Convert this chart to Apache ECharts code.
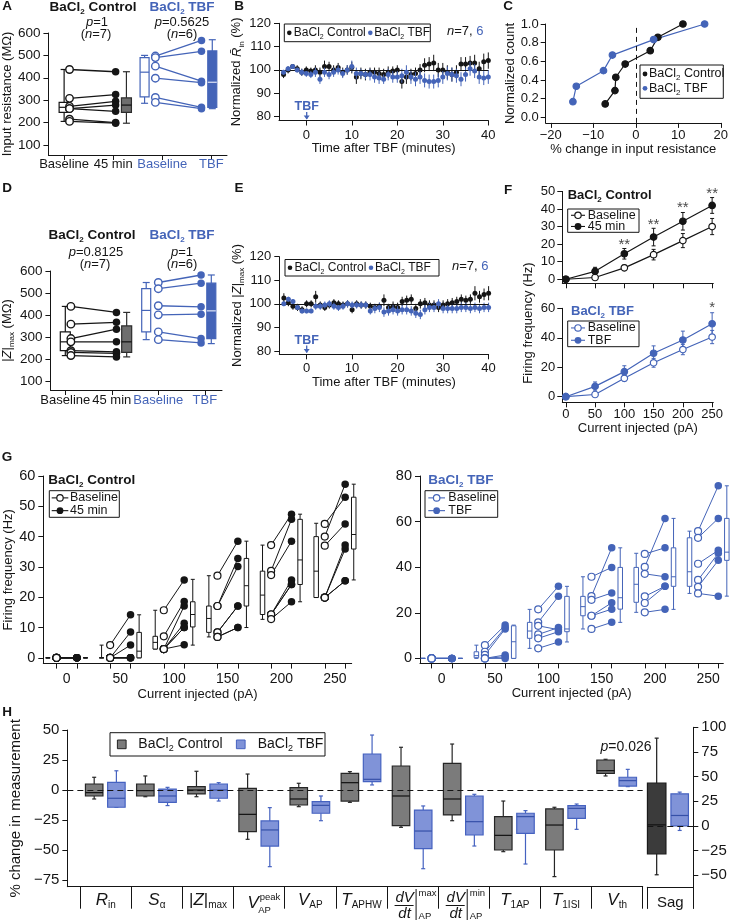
<!DOCTYPE html>
<html>
<head>
<meta charset="utf-8">
<script src="https://cdn.jsdelivr.net/npm/echarts@6.0.0/dist/echarts.min.js"></script>
<style>
html,body{margin:0;padding:0;background:#fff;}
#chart{width:731px;height:921px;}
</style>
</head>
<body>
<div id="chart"></div>
<script>
// ======================= DATA =======================
// Panel A: input resistance (MΩ)
const groupLabels = ['Baseline', '45 min', 'Baseline', 'TBF'];
const aCtrlBaseline = [437, 308, 272, 262, 262, 215, 205];
const aCtrl45min    = [427, 325, 295, 278, 250, 200, 197];
const aTbfBaseline  = [497, 490, 452, 398, 312, 290];
const aTbfAfter     = [567, 518, 385, 378, 268, 262];
const aBoxCtrlBaseline = [205, 245, 268, 290, 437];   // min, q1, median, q3, max
const aBoxCtrl45min    = [197, 245, 278, 310, 427];
const aBoxTbfBaseline  = [286, 315, 425, 490, 500];
const aBoxTbfAfter     = [262, 268, 380, 520, 570];
const aStats = ['1', '0.5625'];

// Panel D: |Z|max (MΩ)
const dCtrlBaseline = [440, 360, 295, 280, 240, 232, 218];
const dCtrl45min    = [413, 368, 337, 280, 235, 228, 212];
const dTbfBaseline  = [548, 520, 443, 402, 325, 290];
const dTbfAfter     = [582, 545, 438, 405, 295, 275];
const dBoxCtrlBaseline = [218, 240, 280, 325, 440];
const dBoxCtrl45min    = [212, 232, 280, 352, 413];
const dBoxTbfBaseline  = [290, 325, 422, 520, 548];
const dBoxTbfAfter     = [272, 295, 420, 545, 582];
const dStats = ['0.8125', '1'];

// Panels B and E: time course (minutes after TBF)
const timeMin = [-5,-4,-3,-2,-1,0,1,2,3,4,5,6,7,8,9,10,11,12,13,14,15,16,17,18,19,20,21,22,23,24,25,26,27,28,29,30,31,32,33,34,35,36,37,38,39,40];
const bCtrl    = [98,100,101.5,100.5,99,100,99.5,100,99,101.5,101.5,100,101,99,100,101,97,98.5,98,99,99,98.5,98,99,99.5,100,95,97,98,98.5,100,102,102.5,103,100,100,99,98,99,102.5,102.5,103,103,100.5,103.5,104];
const bCtrlErr = [1.5,1.5,1,1.5,1.5,1.5,1.5,2,2,2.5,2,2,2,2,2,2.5,3,2.5,2.5,2,2,2.5,2.5,2.5,2,2,3,3,2.5,2.5,2.5,3,3,3.5,3,3,3,3,3,3,3,3,3.5,3,3.5,3.5];
const bTbf     = [99,100.5,101.5,100,99,98.5,98,99,96,99,98,99,100,98.5,100,101.5,98.5,98.5,98,98,97,96.5,96,98,97,97,97.5,99,97,96,97,95.5,95,95,95.5,97,98.5,98,97.5,96,98,100.5,99.5,97,96.5,97];
const bTbfErr  = [1,1,1,1,1.5,1.5,1.5,2,2,2,2,2,2,2,2,2.5,2.5,2,2,2.5,2.5,2.5,2,2.5,2.5,2.5,3,3,3,3,3,3,3,3,3,3,3,3,3,3,3,3,3,3,3,3];
const eCtrl    = [102.5,100.5,99,98.5,97.5,100,100,103,99.5,98.5,99.5,100.5,100,99.5,100,97.5,100,99.5,99.5,99,98.5,99,101.5,98.5,99,98.5,101,101.5,102,98,100,100.5,99.5,99.5,98.5,99.5,100,100.5,101,102,101.5,102,104.5,103,104,104.5];
const eCtrlErr = [2,1.5,1.5,1.5,1.5,1.5,1.5,2.5,1.5,1.5,1.5,1.5,1.5,1.5,1.5,1.5,1.5,1.5,1.5,1.5,1.5,1.5,2.5,1.5,2,2,2,2,2,2,2,2,2,2,2,2,2,2,2,2,2,2,3,2.5,2.5,3];
const eTbf     = [100,102,101,98.5,97,97,97,99,99,99.5,100,99,98.5,99,100,99.5,99.5,99.5,99.5,97,98,98.5,96.5,97,97.5,97,97.5,97.5,97,96,95.5,97.5,98.5,98.5,100,98,98,98,98,98.5,98.5,98,98.5,98,98.5,98.5];
const eTbfErr  = [1,1,1,1,1,1,1,1.5,1.5,1.5,1.5,1.5,1.5,1.5,1.5,1.5,1.5,1.5,1.5,1.5,2,2,2,2,2,2,2,2,2,2,2,2,2,2,2,2,2,2,2,2,2,2,2,2,2,2];

// Panel C: cumulative distribution of % change in input resistance
const cCtrlChange = [-7.2, -4.9, -4.7, -2.5, 3.4, 5.2, 11.1];
const cCtrlCount  = [0.143, 0.286, 0.429, 0.571, 0.714, 0.857, 1.0];
const cTbfChange  = [-14.8, -14.0, -7.6, -5.5, 4.2, 16.2];
const cTbfCount   = [0.167, 0.333, 0.5, 0.667, 0.833, 1.0];

// Panel F: mean firing frequency (Hz) vs injected current (pA)
const currents = [0, 50, 100, 150, 200, 250];
const fCtrlBaseline    = [0, 1, 6.5, 14, 22, 30];
const fCtrlBaselineErr = [0, 0.6, 1.6, 3, 4, 4.6];
const fCtrl45min       = [0, 4.5, 14.5, 24, 33, 42];
const fCtrl45minErr    = [0, 2.3, 3, 5, 5, 4.5];
const fTbfBaseline     = [0, 1.5, 12.5, 23, 32, 40.5];
const fTbfBaselineErr  = [0, 1, 2, 3, 3.5, 4.5];
const fTbfAfter        = [0, 7, 17, 29.5, 38.5, 49.5];
const fTbfAfterErr     = [0, 3, 4, 5, 6, 7.5];
const fCtrlStars = ['', '', '**', '**', '**', '**'];
const fCtrlStarY = [0, 0, 21.4, 32.7, 42.2, 50.2];
const fTbfStars  = ['', '', '', '', '', '*'];
const fTbfStarY  = [0, 0, 0, 0, 0, 62.5];

// Panel G: individual cells (rows = current steps)
const gCtrlBaseline = [
  [0,0,0,0,0,0,0],
  [4.2,0,0,0,0,0,0],
  [15.7,7.1,2.9,2.9,2.9,2.9,2.9],
  [27.1,17.1,17.1,8.4,8.4,6.9,6.9],
  [37.2,28.7,27.3,14.3,14.3,14.3,12.8],
  [44.2,40,37,19.9,19.9,19.9,19.9]
];
const gCtrl45min = [
  [0,0,0,0,0,0,0],
  [14.2,8.5,4.2,0,0,0,0],
  [25.7,18.6,17.1,11.4,10,10,4.3],
  [38.5,32.8,30.1,17.1,17.1,10,10],
  [47.4,45.7,38.5,25.7,24.2,24.2,18.5],
  [53,57.3,44.2,37.2,35.9,25.4,25.4]
];
const gCtrlBoxBaseline = [[0,0,0,0,0],[0,0,0,0,4.2],[2.9,2.9,5.1,7.1,15.7],[6.9,8.4,13,17.1,27.1],[12.7,14.3,20.7,28.6,37.2],[19.9,19.9,28.6,40,44.4]];
const gCtrlBox45min    = [[0,0,0,0,0],[0,0,2.2,8.4,14.2],[4.2,10.2,14.3,18.5,25.9],[10,17.1,23.8,32.8,38.5],[18.5,24.2,32.3,45.7,47.4],[25.7,35.9,40.7,53,57.3]];
const gTbfBaseline = [
  [0,0,0,0,0,0],
  [5.8,2.9,1.5,0,0,0],
  [21.5,15.8,14.3,10.5,8.8,4.4],
  [35.8,27.3,25.7,18.7,18.7,12.9],
  [45.8,40.1,37.1,27.2,24.3,20.2],
  [55.8,52.9,41.5,34.4,31.4,28.5]
];
const gTbfAfter = [
  [0,0,0,0,0,0],
  [14.6,13.5,12.9,1.5,0.7,0],
  [31.6,27.2,12.6,13.5,11.7,7.2],
  [39.9,48.5,28.7,24.4,21.6,15.8],
  [48.5,61.4,35.8,31.6,31.6,21.5],
  [75.7,61.4,47.4,46.1,43,27.3]
];
const gTbfBoxBaseline = [[0,0,0,0,0],[0,0.3,1.2,2.9,5.8],[4.4,8.8,12,15.8,21.5],[12.9,18.7,22.7,27.2,35.8],[20.2,24.6,32.5,39.9,46.1],[28.5,31.6,38,52.9,55.8]];
const gTbfBoxAfter    = [[0,0,0,0,0],[0,0,7.3,14.3,14.6],[7.2,11.7,12.9,27.2,31.6],[15.8,21.6,26.6,39.9,48.5],[21.5,31.6,35.8,48.5,61.4],[27.3,43,46.6,61.4,75.7]];

// Panel H: % change in measurement, box summaries [min, q1, median, q3, max]
const hMeasures = ['Rin', 'Sα', '|Z|max', 'VAP peak', 'VAP', 'TAPHW', 'dV/dt max', 'dV/dt min', 'T1AP', 'T1ISI', 'Vth'];
const hCtrlBox = [
  [-7.5,-5,-2.2,5,10.6],
  [-5.6,-5,-0.5,5,11.7],
  [-5.6,-3.3,0,2.8,15.6],
  [-41.1,-34.7,-20.3,1.4,13.3],
  [-13.9,-12.5,-7.5,1.9,5.6],
  [-10.3,-9.2,6.1,13.9,15.3],
  [-31.1,-29.7,-5,20,35.6],
  [-25.6,-20.8,-7.5,22.2,38.3],
  [-51.4,-50,-37.8,-22.2,-9.2],
  [-72.2,-50,-29.2,-15.8,-14.4],
  [11.7,13.9,16.1,25,25.6]
];
const hTbfBox = [
  [-14.4,-14.4,-6.9,6.4,16],
  [-13,-10.3,-5,0.8,2.2],
  [-9.2,-6.9,0,5,6.1],
  [-63.9,-46.7,-33.3,-25.8,-14.7],
  [-25.6,-19.4,-12.8,-9.7,-5],
  [4.2,6.9,8.9,30,45.8],
  [-65.6,-48.9,-34.2,-16.7,-13.3],
  [-46.7,-37.5,-26.4,-5,-3.6],
  [-61.7,-36.1,-22.2,-19.4,-17.2],
  [-32.8,-23.6,-15.3,-13.1,-11.7],
  [2.8,3.3,7.8,10.6,17.2]
];
const sagCtrlBox = [-49.7, -28.4, 1, 43.3, 89];
const sagTbfBox  = [-4.7, 0, 10.5, 32.5, 34.2];
const hPText = '0.026';

// ======================= STYLE / LAYOUT =======================
const FONT = 'Liberation Sans, Arial, Helvetica, sans-serif';
const BLACK = '#151515';
const BLUE = '#4464b8';
const GREY = '#6e6e6e';

const minus = v => (v < 0 ? '\u2212' + Math.abs(v) : String(v));

function rs(size, color, bold) {
  const fw = bold ? 'bold' : 'normal';
  const sub = Math.round(size * 0.62);
  const base = {fontSize: size, fontFamily: FONT, fontWeight: fw, fill: color, color: color, lineHeight: size + 4};
  return {
    n: Object.assign({}, base),
    i: Object.assign({}, base, {fontStyle: 'italic'}),
    s: {fontSize: sub, fontFamily: FONT, fontWeight: fw, fill: color, color: color, lineHeight: sub, verticalAlign: 'bottom'},
    si: {fontSize: sub, fontFamily: FONT, fontWeight: fw, fontStyle: 'italic', fill: color, color: color, lineHeight: sub, verticalAlign: 'bottom'},
    bl: Object.assign({}, base, {fill: BLUE, color: BLUE})
  };
}

function mkAxis(gi, min, max, ticks, labels, o) {
  o = o || {};
  const ax = {
    type: 'value', gridIndex: gi, min: min, max: max,
    axisLine: {show: true, onZero: false, lineStyle: {color: BLACK, width: 1}},
    axisTick: {show: !!ticks, inside: false, length: o.tickLen || 5, customValues: ticks || [], lineStyle: {color: BLACK, width: 1}},
    axisLabel: {show: !!labels, customValues: labels || [], color: o.labelColor || BLACK, fontSize: o.fontSize || 13,
      fontFamily: FONT, margin: (o.margin != null ? o.margin : 8), showMinLabel: true, showMaxLabel: true, hideOverlap: false,
      formatter: o.formatter || minus},
    splitLine: {show: false}
  };
  if (o.rich) ax.axisLabel.rich = o.rich;
  if (o.position) ax.position = o.position;
  if (o.name) {
    ax.name = o.name; ax.nameLocation = 'middle'; ax.nameGap = o.nameGap;
    if (o.nameRotate != null) ax.nameRotate = o.nameRotate;
    ax.nameTextStyle = {color: BLACK, fontSize: o.nameSize || 13, fontFamily: FONT, rich: o.nameRich};
  }
  return ax;
}

function boxSeries(ai, data, o) {
  return {
    type: 'custom', xAxisIndex: ai, yAxisIndex: ai, clip: false, silent: true, z: o.z || 2,
    encode: {x: 0, y: [1, 2, 3, 4, 5]}, data: data,
    renderItem: function (params, api) {
      const x = api.value(0);
      const ys = [1, 2, 3, 4, 5].map(k => api.coord([x, api.value(k)])[1]);
      const cx = api.coord([x, api.value(3)])[0];
      const w = o.w, cap = o.cap, lw = o.lw || 1;
      const st = {stroke: o.stroke, lineWidth: lw};
      return {type: 'group', children: [
        {type: 'line', shape: {x1: cx, y1: ys[4], x2: cx, y2: ys[3]}, style: st},
        {type: 'line', shape: {x1: cx, y1: ys[1], x2: cx, y2: ys[0]}, style: st},
        {type: 'line', shape: {x1: cx - cap / 2, y1: ys[4], x2: cx + cap / 2, y2: ys[4]}, style: st},
        {type: 'line', shape: {x1: cx - cap / 2, y1: ys[0], x2: cx + cap / 2, y2: ys[0]}, style: st},
        {type: 'rect', shape: {x: cx - w / 2, y: ys[3], width: w, height: ys[1] - ys[3]}, style: {fill: o.fill, stroke: o.stroke, lineWidth: lw}},
        {type: 'line', shape: {x1: cx - w / 2, y1: ys[2], x2: cx + w / 2, y2: ys[2]}, style: {stroke: o.med || o.stroke, lineWidth: o.medLw || lw}}
      ]};
    }
  };
}

function errSeries(ai, data, color, cap, z) {
  return {
    type: 'custom', xAxisIndex: ai, yAxisIndex: ai, clip: false, silent: true, z: z || 2,
    encode: {x: 0, y: 1}, data: data,
    renderItem: function (params, api) {
      const x = api.value(0), y = api.value(1), e = api.value(2);
      const t = api.coord([x, y + e]), b = api.coord([x, y - e]);
      const st = {stroke: color, lineWidth: 1};
      return {type: 'group', children: [
        {type: 'line', shape: {x1: t[0], y1: t[1], x2: b[0], y2: b[1]}, style: st},
        {type: 'line', shape: {x1: t[0] - cap / 2, y1: t[1], x2: t[0] + cap / 2, y2: t[1]}, style: st},
        {type: 'line', shape: {x1: b[0] - cap / 2, y1: b[1], x2: b[0] + cap / 2, y2: b[1]}, style: st}
      ]};
    }
  };
}

function segSeries(ai, data, color, lw) {
  return {
    type: 'custom', xAxisIndex: ai, yAxisIndex: ai, clip: false, silent: true, z: 2,
    encode: {x: [0, 2], y: [1, 3]}, data: data,
    renderItem: function (params, api) {
      const a = api.coord([api.value(0), api.value(1)]);
      const b = api.coord([api.value(2), api.value(3)]);
      return {type: 'line', shape: {x1: a[0], y1: a[1], x2: b[0], y2: b[1]}, style: {stroke: color, lineWidth: lw}};
    }
  };
}

function dots(ai, data, size, fill, stroke, bw, z) {
  return {type: 'scatter', xAxisIndex: ai, yAxisIndex: ai, data: data, symbol: 'circle', symbolSize: size,
    clip: false, silent: true, z: z || 3, itemStyle: {color: fill, borderColor: stroke, borderWidth: bw || 0, opacity: 1}};
}

function refLine(ai, spec, dashed) {
  return {type: 'scatter', xAxisIndex: ai, yAxisIndex: ai, data: [], silent: true, z: 1,
    markLine: {silent: true, symbol: ['none', 'none'], animation: false, label: {show: false},
      lineStyle: {color: BLACK, width: 1, type: dashed ? dashed : 'solid', opacity: 1}, emphasis: {disabled: true}, data: [spec]}};
}

function lineSym(ai, data, color, fill, z) {
  return {type: 'line', xAxisIndex: ai, yAxisIndex: ai, data: data, symbol: 'circle', symbolSize: 6.5, showSymbol: true,
    clip: false, silent: true, z: z || 3, lineStyle: {color: color, width: 1.2},
    itemStyle: {color: fill, borderColor: color, borderWidth: 1.2, opacity: 1}};
}

// ---- grids ----
const grids = [
  {left: 45, top: 33, width: 182, height: 122},          // 0 A
  {left: 279, top: 23.3, width: 209.3, height: 97.2},    // 1 B
  {left: 545.7, top: 24, width: 176.1, height: 98.9},    // 2 C
  {left: 45.7, top: 271, width: 176.3, height: 119},     // 3 D
  {left: 279.3, top: 256.7, width: 209.3, height: 97.6}, // 4 E
  {left: 562.3, top: 191.4, width: 151, height: 91.9},   // 5 F top
  {left: 562.3, top: 308.3, width: 151, height: 94},     // 6 F bottom
  {left: 43.3, top: 476, width: 308.4, height: 187.6},   // 7 G left
  {left: 420, top: 476, width: 303.3, height: 187.4},    // 8 G right
  {left: 46.7, top: 730, width: 596, height: 156.7},     // 9 H
  {left: 647.3, top: 727.3, width: 46, height: 159.6}    // 10 Sag
];

// positions along the grouped x axes of A and D
const XA = {cBox: 0, cOpen: 0.11, cFill: 1.05, cBox2: 1.27, tBox: 1.64, tOpen: 1.86, tFill: 2.8, tBox2: 3.02};
const XD = {cBox: 0, cOpen: 0.12, cFill: 1.1, cBox2: 1.32, tBox: 1.74, tOpen: 2.0, tFill: 2.92, tBox2: 3.14};
const G_OFF = 9.5, G_BOX = 17.5;
const H_GREY = 0.274, H_BLUE = 0.708;

const rAxisName = rs(13, BLACK, false);
const groupColor = (v, i) => (i >= 2 ? BLUE : BLACK);

const xAxes = [
  mkAxis(0, -0.32, 3.32, [0, 1, 2, 3], [0, 1, 2, 3], {margin: 3, formatter: v => groupLabels[Math.round(v)], labelColor: (v, i) => (Math.round(v) >= 2 ? BLUE : BLACK)}),
  mkAxis(1, -6, 40, [0, 10, 20, 30, 40], [0, 10, 20, 30, 40], {margin: 8, name: 'Time after TBF (minutes)', nameGap: 21}),
  mkAxis(2, -21.2, 20, [-20, -10, 0, 10, 20], [-20, -10, 0, 10, 20], {margin: 6, name: '% change in input resistance', nameGap: 17}),
  mkAxis(3, -0.32, 3.37, [0, 1, 2, 3], [0, 1, 2, 3], {margin: 4, formatter: v => groupLabels[Math.round(v)], labelColor: (v, i) => (Math.round(v) >= 2 ? BLUE : BLACK)}),
  mkAxis(4, -6, 40, [0, 10, 20, 30, 40], [0, 10, 20, 30, 40], {margin: 8, name: 'Time after TBF (minutes)', nameGap: 22}),
  mkAxis(5, -6, 252, currents, null, {}),
  mkAxis(6, -6, 252, currents, currents, {margin: 6, name: 'Current injected (pA)', nameGap: 20}),
  mkAxis(7, -21.8, 265.6, currents.flatMap(c => [c - G_OFF, c + G_OFF]), currents, {margin: 9, fontSize: 14, name: 'Current injected (pA)', nameGap: 23}),
  mkAxis(8, -20.4, 264.2, currents.flatMap(c => [c - G_OFF, c + G_OFF]), currents, {margin: 9, fontSize: 14, name: 'Current injected (pA)', nameGap: 23}),
  mkAxis(9, -0.251, 11, [0,1,2,3,4,5,6,7,8,9,10,11], [0.5,1.5,2.5,3.5,4.5,5.5,6.5,7.5,8.5,9.5,10.5],
    {tickLen: 22, margin: 3, fontSize: 16, formatter: v => ['{i|R}{s|in}', '{i|S}{s|α}', '{n||}{i|Z}{n||}{s|max}', '', '{i|V}{s|AP}', '{i|T}{s|APHW}', '', '', '{i|T}{s|1AP}', '{i|T}{s|1ISI}', '{i|V}{s|th}'][Math.floor(v)],
     rich: (function () { const r = rs(17, BLACK, false); r.s.fontSize = 10; r.s.lineHeight = 10; r.n.lineHeight = 21; r.i.lineHeight = 21; return r; })()}),
  mkAxis(10, 0, 1, [0, 1], [0.5], {tickLen: 22, margin: 8, fontSize: 15, formatter: () => 'Sag'})
];
const yAxes = [
  mkAxis(0, 55, 600, [100, 200, 300, 400, 500, 600], [100, 200, 300, 400, 500, 600], {margin: 8, fontSize: 13.5, name: 'Input resistance (M\u03A9)', nameGap: 29, nameRotate: 90}),
  mkAxis(1, 78.3, 120, [80, 90, 100, 110, 120], [80, 90, 100, 110, 120], {margin: 8, name: 'Normalized {i|R\u0304}{s|in} (%)', nameGap: 30, nameRotate: 90, nameRich: rAxisName}),
  mkAxis(2, -0.06, 1.0, [0, 0.2, 0.4, 0.6, 0.8, 1.0], [0, 0.2, 0.4, 0.6, 0.8, 1.0], {margin: 7, formatter: v => v.toFixed(1), name: 'Normalized count', nameGap: 22, nameRotate: 90}),
  mkAxis(3, 62.5, 600, [100, 200, 300, 400, 500, 600], [100, 200, 300, 400, 500, 600], {margin: 8, fontSize: 13.5, name: '|{i|Z}|{s|max} (M\u03A9)', nameGap: 29, nameRotate: 90, nameRich: rAxisName}),
  mkAxis(4, 78.6, 120, [80, 90, 100, 110, 120], [80, 90, 100, 110, 120], {margin: 8, name: 'Normalized |{i|Z}|{s|max} (%)', nameGap: 29, nameRotate: 90, nameRich: rAxisName}),
  mkAxis(5, -2.3, 50, [0, 10, 20, 30, 40, 50], [0, 10, 20, 30, 40, 50], {margin: 7}),
  mkAxis(6, -3.8, 60, [0, 20, 40, 60], [0, 20, 40, 60], {margin: 7}),
  mkAxis(7, -1.9, 60, [0, 10, 20, 30, 40, 50, 60], [0, 10, 20, 30, 40, 50, 60], {margin: 8, fontSize: 14.5, name: 'Firing frequency (Hz)', nameGap: 27, nameRotate: 90}),
  mkAxis(8, -2.2, 80, [0, 20, 40, 60, 80], [0, 20, 40, 60, 80], {margin: 8, fontSize: 14.5}),
  mkAxis(9, -80.6, 50, [-75, -50, -25, 0, 25, 50], [-75, -50, -25, 0, 25, 50], {margin: 8, fontSize: 15, name: '% change in measurement', nameGap: 36, nameRotate: 90, nameSize: 15}),
  mkAxis(10, -62, 100, [-50, -25, 0, 25, 50, 75, 100], [-50, -25, 0, 25, 50, 75, 100], {position: 'right', margin: 8, fontSize: 15})
];

// ---- series ----
const S = [];
function pairPanel(ai, X, cB, c45, tB, tA, boxCB, boxC45, boxTB, boxTA, boxW) {
  S.push(boxSeries(ai, [[X.cBox].concat(boxCB)], {w: boxW, cap: boxW * 0.7, fill: '#fff', stroke: BLACK, lw: 1.2}));
  S.push(boxSeries(ai, [[X.cBox2].concat(boxC45)], {w: boxW, cap: boxW * 0.7, fill: GREY, stroke: '#2c2c2c', lw: 1.2, med: '#111'}));
  S.push(boxSeries(ai, [[X.tBox].concat(boxTB)], {w: boxW - 1, cap: boxW * 0.7, fill: '#fff', stroke: BLUE, lw: 1.2}));
  S.push(boxSeries(ai, [[X.tBox2].concat(boxTA)], {w: boxW - 1, cap: boxW * 0.7, fill: BLUE, stroke: BLUE, lw: 1.2, med: '#dfe6f7'}));
  S.push(segSeries(ai, cB.map((v, i) => [X.cOpen, v, X.cFill, c45[i]]), BLACK, 1.3));
  S.push(segSeries(ai, tB.map((v, i) => [X.tOpen, v, X.tFill, tA[i]]), BLUE, 1.3));
  S.push(dots(ai, cB.map(v => [X.cOpen, v]), 7.5, '#fff', BLACK, 1.4));
  S.push(dots(ai, c45.map(v => [X.cFill, v]), 7.5, BLACK, BLACK, 0));
  S.push(dots(ai, tB.map(v => [X.tOpen, v]), 7.5, '#fff', BLUE, 1.4));
  S.push(dots(ai, tA.map(v => [X.tFill, v]), 7.5, BLUE, BLUE, 0));
}
pairPanel(0, XA, aCtrlBaseline, aCtrl45min, aTbfBaseline, aTbfAfter, aBoxCtrlBaseline, aBoxCtrl45min, aBoxTbfBaseline, aBoxTbfAfter, 10);
pairPanel(3, XD, dCtrlBaseline, dCtrl45min, dTbfBaseline, dTbfAfter, dBoxCtrlBaseline, dBoxCtrl45min, dBoxTbfBaseline, dBoxTbfAfter, 10);

function timePanel(ai, ctrl, ctrlErr, tbf, tbfErr) {
  S.push(refLine(ai, {yAxis: 100}));
  S.push(errSeries(ai, timeMin.map((t, i) => [t, ctrl[i], ctrlErr[i]]), BLACK, 0, 2));
  S.push(dots(ai, timeMin.map((t, i) => [t, ctrl[i]]), 5, BLACK, BLACK, 0, 3));
  S.push(errSeries(ai, timeMin.map((t, i) => [t, tbf[i], tbfErr[i]]), BLUE, 0, 4));
  S.push(dots(ai, timeMin.map((t, i) => [t, tbf[i]]), 5, BLUE, BLUE, 0, 5));
}
timePanel(1, bCtrl, bCtrlErr, bTbf, bTbfErr);
timePanel(4, eCtrl, eCtrlErr, eTbf, eTbfErr);

// C
S.push(refLine(2, {xAxis: 0}, [5, 4]));
S.push(lineSym(2, cCtrlChange.map((v, i) => [v, cCtrlCount[i]]), BLACK, BLACK));
S.push(lineSym(2, cTbfChange.map((v, i) => [v, cTbfCount[i]]), BLUE, BLUE));

// F
function fPanel(ai, base, baseErr, post, postErr, color, stars, starY) {
  S.push(errSeries(ai, currents.map((c, i) => [c, base[i], baseErr[i]]), color, 4, 2));
  S.push(errSeries(ai, currents.map((c, i) => [c, post[i], postErr[i]]), color, 4, 2));
  S.push(lineSym(ai, currents.map((c, i) => [c, base[i]]), color, '#fff', 3));
  S.push(lineSym(ai, currents.map((c, i) => [c, post[i]]), color, color, 4));
  S.push({type: 'scatter', xAxisIndex: ai, yAxisIndex: ai, symbolSize: 1, clip: false, silent: true, z: 6,
    itemStyle: {color: 'rgba(0,0,0,0)'},
    data: currents.map((c, i) => ({value: [c, starY[i]], label: {show: stars[i] !== '', formatter: stars[i]}})).filter((d, i) => stars[i] !== ''),
    label: {show: true, position: 'inside', color: BLACK, fontSize: 15, fontFamily: FONT, offset: [0, 3]}});
}
fPanel(5, fCtrlBaseline, fCtrlBaselineErr, fCtrl45min, fCtrl45minErr, BLACK, fCtrlStars, fCtrlStarY);
fPanel(6, fTbfBaseline, fTbfBaselineErr, fTbfAfter, fTbfAfterErr, BLUE, fTbfStars, fTbfStarY);

// G
function gPanel(ai, base, post, boxB, boxP, color) {
  S.push(boxSeries(ai, currents.map((c, i) => [c - G_BOX].concat(boxB[i])), {w: 4.5, cap: 4, fill: '#fff', stroke: color, lw: 1}));
  S.push(boxSeries(ai, currents.map((c, i) => [c + G_BOX].concat(boxP[i])), {w: 4.5, cap: 4, fill: '#fff', stroke: color, lw: 1}));
  const segs = [], open = [], filled = [];
  currents.forEach((c, i) => {
    base[i].forEach((v, j) => {
      segs.push([c - G_OFF, v, c + G_OFF, post[i][j]]);
      open.push([c - G_OFF, v]);
      filled.push([c + G_OFF, post[i][j]]);
    });
  });
  S.push(segSeries(ai, segs, color, 1));
  S.push(dots(ai, open, 7, '#fff', color, 1.2));
  S.push(dots(ai, filled, 7.5, color, color, 0));
}
gPanel(7, gCtrlBaseline, gCtrl45min, gCtrlBoxBaseline, gCtrlBox45min, BLACK);
gPanel(8, gTbfBaseline, gTbfAfter, gTbfBoxBaseline, gTbfBoxAfter, BLUE);

// H
S.push(refLine(9, {yAxis: 0}, [6, 4]));
S.push(boxSeries(9, hCtrlBox.map((b, i) => [i + H_GREY].concat(b)), {w: 17.5, cap: 4, fill: '#7b7b7b', stroke: '#262626', lw: 1.2, med: '#111'}));
S.push(boxSeries(9, hTbfBox.map((b, i) => [i + H_BLUE].concat(b)), {w: 17.5, cap: 4, fill: '#8093d8', stroke: '#4562c0', lw: 1.2, med: '#3550a8'}));
S.push(refLine(10, {yAxis: 0}, [6, 4]));
S.push(boxSeries(10, [[0.204].concat(sagCtrlBox)], {w: 18.5, cap: 4, fill: '#3b3b3b', stroke: '#1a1a1a', lw: 1.2, med: '#111'}));
S.push(boxSeries(10, [[0.704].concat(sagTbfBox)], {w: 17.5, cap: 4, fill: '#8093d8', stroke: '#4562c0', lw: 1.2, med: '#3550a8'}));

const chart = echarts.init(document.getElementById('chart'), null, {renderer: 'canvas', width: 731, height: 921});
chart.setOption({
  animation: false,
  backgroundColor: '#ffffff',
  textStyle: {fontFamily: FONT},
  grid: grids,
  xAxis: xAxes,
  yAxis: yAxes,
  series: S
});

// ======================= ANNOTATIONS =======================
function T(x, y, text, o) {
  o = o || {};
  const st = {text: text, fill: o.color || BLACK, fontSize: o.size || 13, fontFamily: FONT,
    fontWeight: o.bold ? 'bold' : 'normal', fontStyle: o.italic ? 'italic' : 'normal',
    align: o.align || 'center', verticalAlign: o.va || 'middle', textAlign: o.align || 'center', textVerticalAlign: o.va || 'middle'};
  if (o.rich) st.rich = o.rich;
  return {type: 'text', x: x, y: y, rotation: o.rot || 0, silent: true, z: 100, style: st};
}
function R(x, y, w, h, o) {
  o = o || {};
  return {type: 'rect', shape: {x: x, y: y, width: w, height: h}, silent: true, z: 90,
    style: {fill: o.fill || '#fff', stroke: o.stroke || BLACK, lineWidth: o.lw || 1}};
}
function L(x1, y1, x2, y2, color, lw) {
  return {type: 'line', shape: {x1: x1, y1: y1, x2: x2, y2: y2}, silent: true, z: 95, style: {stroke: color || BLACK, lineWidth: lw || 1}};
}
function C(cx, cy, r, fill, stroke, lw) {
  return {type: 'circle', shape: {cx: cx, cy: cy, r: r}, silent: true, z: 96, style: {fill: fill, stroke: stroke || fill, lineWidth: lw || 0}};
}
const bacl = (rest, color, size) => ({txt: '{n|BaCl}{s|2}{n|' + rest + '}', rich: rs(size, color, true)});
const baclN = (rest, color, size) => ({txt: '{n|BaCl}{s|2}{n|' + rest + '}', rich: rs(size, color, false)});

const G = [];
// panel letters
[['A', 7, 6], ['B', 239, 6], ['C', 508, 6], ['D', 7, 188], ['E', 239, 188], ['F', 508, 190], ['G', 7, 457], ['H', 7, 712]]
  .forEach(p => G.push(T(p[1], p[2], p[0], {bold: true, size: 13.5})));

// A / D titles and stats
function pairTitles(yT, yP, yN, xc, xt, stats, nC, nT) {
  let t = bacl(' Control', BLACK, 13.5); G.push(T(xc, yT, t.txt, {rich: t.rich}));
  t = bacl(' TBF', BLUE, 13.5); G.push(T(xt, yT, t.txt, {rich: t.rich}));
  const r = rs(13, BLACK, false);
  G.push(T(xc + 4, yP, '{i|p}{n|=' + stats[0] + '}', {rich: r}));
  G.push(T(xc + 3, yN, '{n|(}{i|n}{n|=' + nC + ')}', {rich: r}));
  G.push(T(xt, yP, '{i|p}{n|=' + stats[1] + '}', {rich: r}));
  G.push(T(xt, yN, '{n|(}{i|n}{n|=' + nT + ')}', {rich: r}));
}
pairTitles(7, 22.5, 34, 93, 182, aStats, aCtrlBaseline.length, aTbfBaseline.length);
pairTitles(235, 252, 264, 92, 182, dStats, dCtrlBaseline.length, dTbfBaseline.length);

// B / E legends
function timeLegend(x, y, w, h, nx) {
  G.push(R(x, y, w, h));
  const cy = y + h / 2;
  G.push(C(x + 5, cy, 2.3, BLACK));
  let t = baclN(' Control', BLACK, 12); G.push(T(x + 9.5, cy, t.txt, {rich: t.rich, align: 'left'}));
  G.push(C(x + 86, cy, 2.3, BLUE));
  t = baclN(' TBF', BLACK, 12); G.push(T(x + 90, cy, t.txt, {rich: t.rich, align: 'left'}));
  const r = rs(13, BLACK, false);
  G.push(T(nx, cy - 1, '{i|n}{n|=' + aCtrlBaseline.length + ', }{bl|' + aTbfBaseline.length + '}', {rich: r, align: 'left'}));
}
timeLegend(284.3, 24, 146, 17.7, 447);
timeLegend(285, 259.5, 154, 16.5, 452);
function tbfArrow(x, y) {
  G.push(T(x, y, 'TBF', {bold: true, size: 12.5, color: BLUE}));
  G.push(L(x, y + 5, x, y + 12, BLUE, 1.3));
  G.push({type: 'polygon', shape: {points: [[x - 3, y + 8.5], [x + 3, y + 8.5], [x, y + 12.5]]}, silent: true, z: 95, style: {fill: BLUE}});
}
tbfArrow(306.7, 107);
tbfArrow(306.7, 340.5);

// C legend
G.push(R(640, 65, 83.3, 33.3));
{ let t = baclN(' Control', BLACK, 12.5); G.push(C(645, 74, 2.4, BLACK)); G.push(T(649, 74, t.txt, {rich: t.rich, align: 'left'}));
  t = baclN(' TBF', BLACK, 12.5); G.push(C(645, 88.3, 2.4, BLUE)); G.push(T(649, 88.3, t.txt, {rich: t.rich, align: 'left'})); }

// F titles and legends
function symLegend(x, y, w, h, color, names, lx1, lx2, tx) {
  G.push(R(x, y, w, h));
  const y1 = y + h * 0.27, y2 = y + h * 0.75;
  G.push(L(lx1, y1, lx2, y1, color, 1.1)); G.push(C((lx1 + lx2) / 2, y1, 3.2, '#fff', color, 1.2));
  G.push(L(lx1, y2, lx2, y2, color, 1.1)); G.push(C((lx1 + lx2) / 2, y2, 3.4, color, color, 0));
  G.push(T(tx, y1, names[0], {align: 'left', size: 12.5}));
  G.push(T(tx, y2, names[1], {align: 'left', size: 12.5}));
}
{ let t = bacl(' Control', BLACK, 13); G.push(T(567.7, 195, t.txt, {rich: t.rich, align: 'left'}));
  t = bacl(' TBF', BLUE, 13); G.push(T(571, 311.5, t.txt, {rich: t.rich, align: 'left'})); }
symLegend(567.7, 209, 71.3, 23.3, BLACK, ['Baseline', '45 min'], 571, 585, 587.7);
symLegend(567.7, 321, 71.3, 25.7, BLUE, ['Baseline', 'TBF'], 571, 585, 587.7);
G.push(T(528, 323, 'Firing frequency (Hz)', {rot: Math.PI / 2, size: 13}));

// G titles and legends
{ let t = bacl(' Control', BLACK, 13.5); G.push(T(48.3, 480, t.txt, {rich: t.rich, align: 'left'}));
  t = bacl(' TBF', BLUE, 13.5); G.push(T(428.3, 480, t.txt, {rich: t.rich, align: 'left'})); }
symLegend(49.3, 490.7, 70, 26.6, BLACK, ['Baseline', '45 min'], 51.7, 68.3, 70);
symLegend(425, 490.7, 72.7, 26.6, BLUE, ['Baseline', 'TBF'], 428.3, 445, 448.3);

// H legend and p-value
G.push(R(110, 732.7, 215, 23.3));
G.push({type: 'rect', shape: {x: 117.4, y: 740, width: 8.7, height: 8.7}, silent: true, z: 96, style: {fill: '#7b7b7b', stroke: '#222', lineWidth: 1}});
G.push({type: 'rect', shape: {x: 236.4, y: 740, width: 8.7, height: 8.7}, silent: true, z: 96, style: {fill: '#8093d8', stroke: '#4562c0', lineWidth: 1}});
{ let t = baclN(' Control', BLACK, 14); G.push(T(138.3, 744.3, t.txt, {rich: t.rich, align: 'left'}));
  t = baclN(' TBF', BLACK, 14); G.push(T(257.7, 744.3, t.txt, {rich: t.rich, align: 'left'})); }
G.push(T(626, 747, '{i|p}{n|=' + hPText + '}', {rich: rs(14, BLACK, false)}));

// H special category labels (positions from the H axis scale)
const hx = v => chart.convertToPixel({xAxisIndex: 9}, v);
{
  const cx = hx(3.5);
  G.push(T(cx - 6, 903, 'V', {italic: true, size: 17}));
  G.push(T(cx + 0.5, 897, 'peak', {size: 9.5, align: 'left'}));
  G.push(T(cx - 1, 910, 'AP', {size: 9.5, align: 'left'}));
  ['max', 'min'].forEach((m, k) => {
    const c = hx(6.5 + k);
    G.push(T(c - 8, 897.5, 'dV', {italic: true, size: 15}));
    G.push(L(c - 18, 905.5, c + 1, 905.5, BLACK, 1));
    G.push(T(c - 8, 913.5, 'dt', {italic: true, size: 15}));
    G.push(L(c + 3.5, 889, c + 3.5, 920, BLACK, 1));
    G.push(T(c + 6, 893, m, {size: 9.5, align: 'left'}));
    G.push(T(c + 6, 916, 'AP', {size: 9.5, align: 'left'}));
  });
}

chart.setOption({graphic: [{elements: G}]});
</script>
</body>
</html>
